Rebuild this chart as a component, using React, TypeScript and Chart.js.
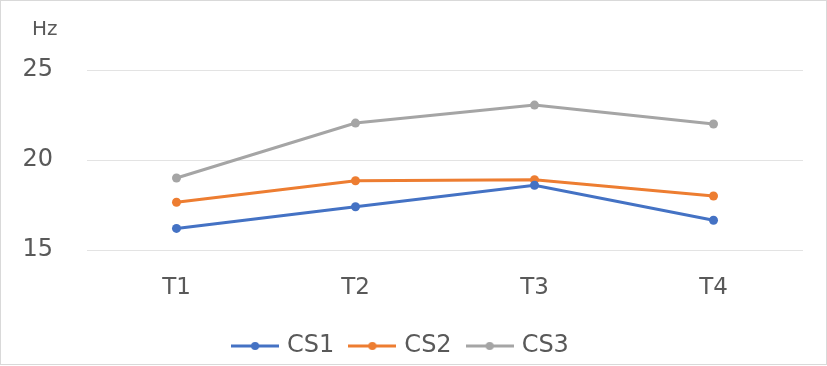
import React, { useEffect, useRef } from "react";
import { Chart, registerables } from "chart.js";

Chart.register(...registerables);

const categories = ["T1", "T2", "T3", "T4"];
const cs1 = [16.2, 17.4, 18.6, 16.65];
const cs2 = [17.65, 18.85, 18.9, 18.0];
const cs3 = [19.0, 22.05, 23.05, 22.0];
const seriesNames = ["CS1", "CS2", "CS3"];
const yTicks = [15, 20, 25];
const unitLabel = "Hz";

const colors = ["#4472C4", "#ED7D31", "#A5A5A5"];
const FONT = "'DejaVu Sans', sans-serif";
const TEXT = "#595959";

function legendIcon(color: string): HTMLCanvasElement {
  const c = document.createElement("canvas");
  c.width = 48;
  c.height = 12;
  const ctx = c.getContext("2d")!;
  ctx.strokeStyle = color;
  ctx.lineWidth = 3;
  ctx.beginPath();
  ctx.moveTo(0, 6);
  ctx.lineTo(48, 6);
  ctx.stroke();
  ctx.fillStyle = color;
  ctx.beginPath();
  ctx.arc(24, 6, 4, 0, Math.PI * 2);
  ctx.fill();
  return c;
}

const unitPlugin = {
  id: "unitLabel",
  afterLayout(chart: any) {
    const lg = chart.legend;
    if (lg) {
      lg.top += 4;
      lg.bottom += 4;
    }
  },
  afterDraw(chart: any) {
    const { ctx, chartArea } = chart;
    ctx.save();
    ctx.fillStyle = TEXT;
    ctx.font = `20px ${FONT}`;
    ctx.textAlign = "left";
    ctx.textBaseline = "middle";
    ctx.fillText(unitLabel, chartArea.left - 55, chartArea.top - 40);
    ctx.restore();
  },
};

export default function App() {
  const ref = useRef<HTMLCanvasElement>(null);
  useEffect(() => {
    document.body.style.margin = "0";
    const icons = colors.map(legendIcon);
    const data = [cs1, cs2, cs3];
    const chart = new Chart(ref.current!, {
      type: "line",
      data: {
        labels: categories,
        datasets: seriesNames.map((name, i) => ({
          label: name,
          data: data[i],
          borderColor: colors[i],
          backgroundColor: colors[i],
          borderWidth: 3,
          pointRadius: 4.5,
          pointHoverRadius: 4.5,
          pointBorderWidth: 0,
          pointStyle: "circle",
          tension: 0,
        })),
      },
      options: {
        animation: false,
        responsive: false,
        layout: { padding: { left: 0, right: 23, top: 69, bottom: 0 } },
        plugins: {
          tooltip: { enabled: false },
          legend: {
            position: "bottom",
            labels: {
              usePointStyle: true,
              pointStyleWidth: 40,
              padding: 18,
              color: TEXT,
              font: { family: FONT, size: 24 },
              generateLabels: (chart: any) =>
                chart.data.datasets.map((ds: any, i: number) => ({
                  text: ds.label,
                  fillStyle: colors[i],
                  strokeStyle: colors[i],
                  fontColor: TEXT,
                  lineWidth: 0,
                  pointStyle: icons[i],
                  datasetIndex: i,
                  hidden: false,
                })),
            },
          },
        },
        scales: {
          x: {
            offset: true,
            grid: { display: false, drawTicks: false, tickLength: 0 },
            border: { display: false },
            ticks: { color: TEXT, font: { family: FONT, size: 23 }, padding: 24 },
            afterFit: (s: any) => {
              s.height = 62;
            },
          },
          y: {
            min: 15,
            max: 25,
            afterBuildTicks: (s: any) => {
              s.ticks = yTicks.map((v) => ({ value: v }));
            },
            grid: { color: "#e3e3e3", lineWidth: 1, drawTicks: false, tickLength: 0 },
            border: { display: false },
            ticks: { color: TEXT, font: { family: FONT, size: 24 }, padding: 34 },
            afterFit: (s: any) => {
              s.width = 86;
            },
          },
        },
      },
      plugins: [unitPlugin],
    } as any);
    return () => chart.destroy();
  }, []);
  return (
    <div
      style={{
        position: "absolute",
        left: 0,
        top: 0,
        width: 825,
        height: 363,
        border: "1px solid #d9d9d9",
        background: "#fff",
      }}
    >
      <canvas ref={ref} width={825} height={363} style={{ display: "block" }} />
    </div>
  );
}
